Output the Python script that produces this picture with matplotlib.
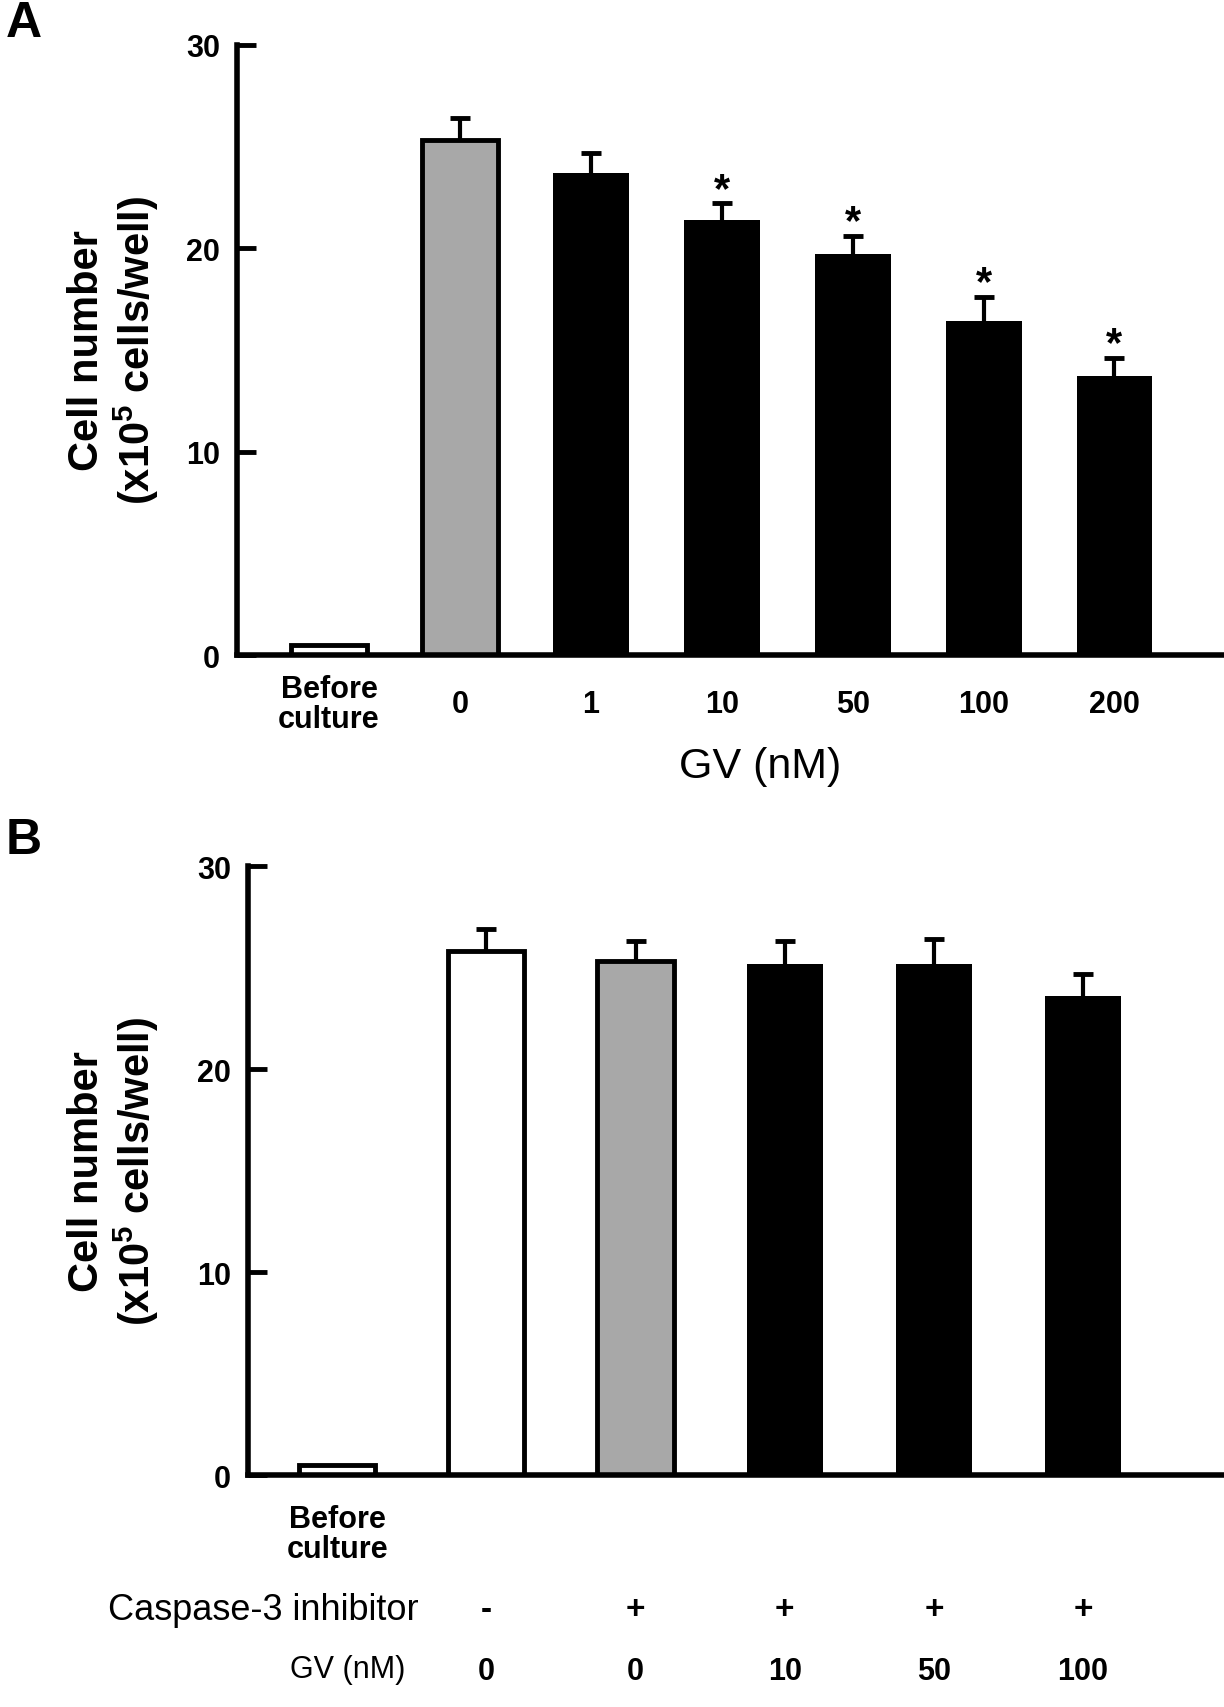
import matplotlib
matplotlib.use("Agg")
import matplotlib.pyplot as plt
from matplotlib.transforms import blended_transform_factory

plt.rcParams['font.family'] = ['Liberation Sans', 'DejaVu Sans']
plt.rcParams['mathtext.fontset'] = 'custom'
plt.rcParams['mathtext.bf'] = 'Liberation Sans:bold'
plt.rcParams['mathtext.rm'] = 'Liberation Sans:bold'

# ---------------- data ----------------
a_labels = ['Before\nculture', '0', '1', '10', '50', '100', '200']
a_values = [0.5, 25.3, 23.7, 21.4, 19.7, 16.4, 13.7]
a_errors = [0.0, 1.1, 1.0, 0.8, 0.9, 1.2, 0.9]
a_colors = ['white', '#a8a8a8', 'black', 'black', 'black', 'black', 'black']
a_sig = ['', '', '', '*', '*', '*', '*']

b_labels = ['Before\nculture', '', '', '', '', '']
b_values = [0.5, 25.8, 25.3, 25.2, 25.2, 23.6]
b_errors = [0.0, 1.1, 1.0, 1.1, 1.2, 1.1]
b_colors = ['white', 'white', '#a8a8a8', 'black', 'black', 'black']
b_inhib = ['', '-', '+', '+', '+', '+']
b_gv = ['', '0', '0', '10', '50', '100']

yticks = [0, 10, 20, 30]

W, H = 1127.0, 1570.0  # reference layout units

fig = plt.figure(figsize=(12.24, 17.08), dpi=100)

def fx(x):
    return x / W

def fy(y):
    return 1 - y / H

def style_axes(ax):
    ax.spines['top'].set_visible(False)
    ax.spines['right'].set_visible(False)
    ax.spines['left'].set_linewidth(4)
    ax.spines['bottom'].set_linewidth(4)
    ax.set_ylim(0, 30)
    ax.set_yticks(yticks)
    ax.set_yticklabels([str(t) for t in yticks], fontsize=22, fontweight='bold')
    ax.tick_params(axis='y', direction='in', length=14, width=3.5, pad=12)
    ax.tick_params(axis='x', length=0, labelbottom=False)
    ax.set_facecolor('none')

def draw_bars(ax, values, errors, colors, width):
    xs = list(range(len(values)))
    for x, v, e, c in zip(xs, values, errors, colors):
        lw = 0 if c == 'black' else 3.5
        ax.bar(x, v, width=width, color=c, edgecolor='black', linewidth=lw, zorder=2)
        if e > 0:
            ax.vlines(x, v, v + e, colors='black', linewidth=3, zorder=1)
            ax.plot([x], [v + e], marker='_', markersize=15, markeredgewidth=3.5,
                    color='black', zorder=1)
    return xs

# ---------------- Panel A ----------------
axA = fig.add_axes([fx(218), fy(603), fx(1125) - fx(218), fy(42) - fy(603)])
style_axes(axA)
xsA = draw_bars(axA, a_values, a_errors, a_colors, 0.58)
axA.set_xlim(-0.705, 6.82)
for x, v, e, s in zip(xsA, a_values, a_errors, a_sig):
    if s:
        axA.annotate(s, (x, v + e), xytext=(0, 2), textcoords='offset points',
                     ha='center', va='baseline', fontsize=30, fontweight='bold')
trA = blended_transform_factory(axA.transData, fig.transFigure)
for x, lab in zip(xsA, a_labels):
    axA.text(x, fy(648), lab, transform=trA, ha='center', va='center',
             fontsize=22, fontweight='bold', linespacing=1.0)
fig.text(fx(700), fy(705), 'GV (nM)', ha='center', va='center', fontsize=31)

# ---------------- Panel B ----------------
axB = fig.add_axes([fx(228), fy(1357), fx(1125) - fx(228), fy(797) - fy(1357)])
style_axes(axB)
xsB = draw_bars(axB, b_values, b_errors, b_colors, 0.51)
axB.set_xlim(-0.6, 5.93)
trB = blended_transform_factory(axB.transData, fig.transFigure)
for x, lab in zip(xsB, b_labels):
    if lab:
        axB.text(x, fy(1411), lab, transform=trB, ha='center', va='center',
                 fontsize=22, fontweight='bold', linespacing=1.0)
for x, s in zip(xsB, b_inhib):
    if s:
        axB.text(x, fy(1480), s, transform=trB, ha='center', va='center',
                 fontsize=24, fontweight='bold')
for x, s in zip(xsB, b_gv):
    if s:
        axB.text(x, fy(1537), s, transform=trB, ha='center', va='center',
                 fontsize=22, fontweight='bold')
fig.text(fx(385), fy(1480), 'Caspase-3 inhibitor', ha='right', va='center', fontsize=26)
fig.text(fx(373), fy(1535), 'GV (nM)', ha='right', va='center', fontsize=22)

# ---------------- labels ----------------
ylab = 'Cell number\n(x10$^{\\mathbf{5}}$ cells/well)'
fig.text(fx(105), fy(322), ylab, rotation=90, ha='center', va='center',
         fontsize=30, fontweight='bold', linespacing=1.1)
fig.text(fx(105), fy(1077), ylab, rotation=90, ha='center', va='center',
         fontsize=30, fontweight='bold', linespacing=1.1)
fig.text(fx(5), fy(22), 'A', ha='left', va='center', fontsize=36, fontweight='bold')
fig.text(fx(5), fy(773), 'B', ha='left', va='center', fontsize=36, fontweight='bold')

fig.savefig('out.png', dpi=100, facecolor='white')
